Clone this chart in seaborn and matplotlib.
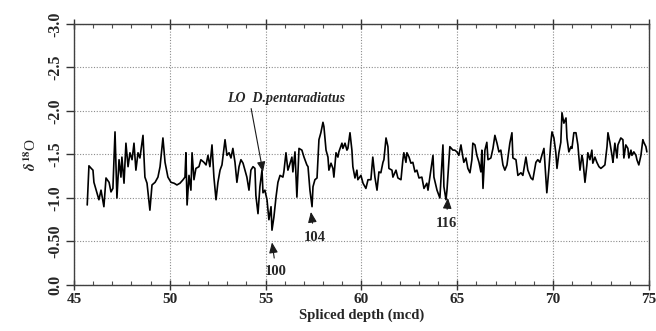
import matplotlib
matplotlib.use("Agg")
import matplotlib.pyplot as plt
import seaborn as sns
import pandas as pd
from matplotlib.ticker import MultipleLocator, FixedLocator, FixedFormatter

# ---- data ----
depth = [45.69, 45.78, 45.90, 45.99, 46.04, 46.30, 46.41, 46.56, 46.67, 46.83, 46.93, 47.03, 47.14, 47.24,
         47.35, 47.45, 47.50, 47.61, 47.71, 47.82, 47.92, 48.03, 48.13, 48.23, 48.34, 48.44, 48.60, 48.70,
         48.81, 48.96, 49.07, 49.23, 49.38, 49.49, 49.56, 49.64, 49.75, 49.90, 50.06, 50.22, 50.37, 50.53,
         50.69, 50.79, 50.84, 50.90, 51.00, 51.10, 51.16, 51.26, 51.36, 51.52, 51.62, 51.78, 51.89, 51.99,
         52.09, 52.20, 52.30, 52.41, 52.51, 52.62, 52.72, 52.88, 52.98, 53.09, 53.19, 53.29, 53.40, 53.50,
         53.61, 53.71, 53.82, 53.92, 54.02, 54.13, 54.23, 54.34, 54.44, 54.49, 54.60, 54.70, 54.81, 54.86,
         54.96, 55.07, 55.17, 55.28, 55.33, 55.43, 55.54, 55.64, 55.75, 55.90, 55.95, 56.06, 56.16, 56.22,
         56.37, 56.42, 56.53, 56.63, 56.74, 56.89, 57.00, 57.15, 57.21, 57.31, 57.42, 57.47, 57.57, 57.68,
         57.78, 57.88, 57.99, 58.04, 58.15, 58.25, 58.30, 58.41, 58.51, 58.56, 58.67, 58.77, 58.82, 58.98,
         59.03, 59.14, 59.24, 59.29, 59.40, 59.50, 59.55, 59.66, 59.76, 59.81, 59.97, 60.08, 60.23, 60.34,
         60.49, 60.59, 60.70, 60.81, 60.91, 61.01, 61.12, 61.17, 61.28, 61.38, 61.43, 61.59, 61.64, 61.80,
         61.90, 62.06, 62.16, 62.21, 62.32, 62.37, 62.48, 62.58, 62.68, 62.79, 62.89, 63.00, 63.15, 63.26,
         63.41, 63.47, 63.62, 63.73, 63.78, 63.94, 64.09, 64.25, 64.30, 64.41, 64.46, 64.61, 64.77, 64.87,
         64.98, 65.08, 65.19, 65.29, 65.34, 65.45, 65.55, 65.66, 65.76, 65.81, 65.92, 66.02, 66.13, 66.23,
         66.28, 66.34, 66.44, 66.54, 66.60, 66.75, 66.86, 66.96, 67.07, 67.17, 67.27, 67.38, 67.48, 67.59,
         67.74, 67.85, 67.90, 68.06, 68.16, 68.32, 68.42, 68.58, 68.68, 68.84, 68.94, 69.10, 69.20, 69.31,
         69.41, 69.52, 69.62, 69.67, 69.78, 69.88, 69.94, 70.04, 70.14, 70.20, 70.30, 70.40, 70.46, 70.56,
         70.67, 70.72, 70.82, 70.93, 70.98, 71.08, 71.19, 71.29, 71.40, 71.50, 71.55, 71.66, 71.76, 71.81,
         71.92, 72.02, 72.07, 72.18, 72.28, 72.39, 72.49, 72.60, 72.70, 72.81, 72.86, 72.96, 73.07, 73.12,
         73.22, 73.33, 73.38, 73.53, 73.64, 73.69, 73.79, 73.90, 73.95, 74.06, 74.11, 74.21, 74.32, 74.37,
         74.47, 74.58, 74.68, 74.73, 74.84, 74.89]
d18o = [-0.92, -1.37, -1.34, -1.32, -1.18, -0.98, -1.09, -0.90, -1.23, -1.18, -1.07, -1.11, -1.76, -1.00,
        -1.44, -1.24, -1.47, -1.17, -1.63, -1.36, -1.52, -1.44, -1.63, -1.32, -1.52, -1.46, -1.72, -1.24,
        -1.17, -0.86, -1.15, -1.18, -1.24, -1.36, -1.52, -1.69, -1.41, -1.24, -1.18, -1.17, -1.15, -1.17,
        -1.21, -1.24, -1.52, -0.92, -1.26, -1.09, -1.52, -1.21, -1.34, -1.36, -1.44, -1.41, -1.38, -1.49,
        -1.36, -1.61, -1.24, -0.98, -1.18, -1.32, -1.38, -1.67, -1.49, -1.52, -1.46, -1.57, -1.41, -1.18,
        -1.36, -1.44, -1.40, -1.32, -1.24, -1.09, -1.32, -1.36, -1.34, -1.03, -0.82, -1.13, -1.32, -1.06,
        -1.09, -0.98, -0.75, -0.90, -0.63, -0.78, -1.01, -1.18, -1.26, -1.24, -1.30, -1.52, -1.32, -1.36,
        -1.47, -1.30, -1.53, -1.01, -1.57, -1.55, -1.47, -1.38, -1.36, -1.09, -0.90, -1.13, -1.21, -1.23,
        -1.67, -1.75, -1.87, -1.82, -1.55, -1.47, -1.32, -1.40, -1.34, -1.24, -1.52, -1.47, -1.53, -1.63,
        -1.57, -1.63, -1.55, -1.57, -1.75, -1.55, -1.36, -1.23, -1.32, -1.21, -1.26, -1.17, -1.11, -1.21,
        -1.21, -1.47, -1.24, -1.09, -1.30, -1.29, -1.41, -1.44, -1.69, -1.59, -1.34, -1.32, -1.24, -1.32,
        -1.23, -1.21, -1.44, -1.52, -1.41, -1.52, -1.47, -1.40, -1.41, -1.30, -1.32, -1.23, -1.24, -1.11,
        -1.17, -1.09, -1.32, -1.49, -1.24, -1.09, -1.00, -1.61, -1.13, -0.98, -1.09, -1.59, -1.55, -1.55,
        -1.53, -1.49, -1.61, -1.47, -1.41, -1.46, -1.34, -1.29, -1.44, -1.63, -1.61, -1.49, -1.41, -1.30,
        -1.55, -1.11, -1.55, -1.64, -1.44, -1.46, -1.57, -1.72, -1.63, -1.53, -1.55, -1.38, -1.32, -1.38,
        -1.63, -1.75, -1.46, -1.44, -1.26, -1.29, -1.26, -1.47, -1.32, -1.23, -1.21, -1.41, -1.44, -1.41,
        -1.49, -1.57, -1.24, -1.06, -1.34, -1.64, -1.76, -1.69, -1.52, -1.34, -1.52, -1.64, -1.98, -1.86,
        -1.92, -1.69, -1.53, -1.59, -1.57, -1.75, -1.75, -1.61, -1.32, -1.49, -1.44, -1.18, -1.38, -1.52,
        -1.44, -1.55, -1.40, -1.47, -1.41, -1.36, -1.34, -1.36, -1.38, -1.59, -1.75, -1.64, -1.49, -1.41,
        -1.63, -1.46, -1.61, -1.69, -1.67, -1.46, -1.61, -1.57, -1.46, -1.55, -1.49, -1.53, -1.49, -1.44,
        -1.38, -1.49, -1.67, -1.64, -1.59, -1.53]

xticks = [45, 50, 55, 60, 65, 70, 75]
yticks = [0.0, -0.5, -1.0, -1.5, -2.0, -2.5, -3.0]
ytick_labels = ["0.0", "-0.50", "-1.0", "-1.5", "-2.0", "-2.5", "-3.0"]

event_labels = ["100", "104", "116"]
event_tip_x = [55.33, 57.36, 64.51]
event_tip_y = [-0.49, -0.84, -1.00]
event_txt_x = [55.55, 57.55, 64.42]
event_txt_y = [-0.15, -0.55, -0.71]

lo_label = "LO  D.pentaradiatus"
lo_tip = (54.86, -1.30)

# ---- style ----
sns.set_theme(style="white")
plt.rcParams["font.family"] = ["Liberation Serif", "DejaVu Serif"]
plt.rcParams["font.weight"] = "bold"
plt.rcParams["mathtext.fontset"] = "stix"

fig = plt.figure(figsize=(6.56, 3.31), dpi=100)
ax = fig.add_axes([0.1128, 0.139, 0.8765, 0.7885])

df = pd.DataFrame({"depth": depth, "d18o": d18o})
sns.lineplot(data=df, x="depth", y="d18o", ax=ax, color="black", lw=1.2,
             sort=False, estimator=None)

ax.set_xlim(45, 75)
ax.set_ylim(0.0, -3.0)

ax.xaxis.set_major_locator(FixedLocator(xticks))
ax.xaxis.set_minor_locator(MultipleLocator(1))
ax.yaxis.set_major_locator(FixedLocator(yticks))
ax.yaxis.set_major_formatter(FixedFormatter(ytick_labels))
ax.set_xticklabels([str(t) for t in xticks])

ax.grid(True, which="major", color="0.55", linestyle=(0, (1, 1.5)), lw=0.8)

for s in ax.spines.values():
    s.set_color("0.25")
    s.set_linewidth(1.0)

ax.tick_params(axis="x", which="major", direction="inout", length=7, width=1.0,
               top=True, bottom=True, labelsize=11, pad=2, colors="0.2")
ax.tick_params(axis="x", which="minor", direction="in", length=3, width=0.8,
               top=True, bottom=True, colors="0.3")
ax.tick_params(axis="y", which="major", direction="out", length=6, width=1.0,
               left=True, right=False, labelsize=11.5, pad=2, colors="0.2")
for lab in ax.get_yticklabels():
    lab.set_rotation(90)
    lab.set_va("center")
for lab in ax.get_xticklabels() + ax.get_yticklabels():
    lab.set_fontweight("bold")
    lab.set_color("0.15")

ax.set_xlabel("Spliced depth (mcd)", fontsize=10.5, fontweight="bold", labelpad=2, color="0.15")
ax.set_ylabel(r"$\delta^{18}$O", fontsize=11, labelpad=6, color="0.15")

# annotations
for lab, tx, ty, px, py in zip(event_labels, event_txt_x, event_txt_y, event_tip_x, event_tip_y):
    ax.annotate(lab, xy=(px, py), xytext=(tx, ty), ha="center", va="center",
                fontsize=10.5, fontweight="bold", color="0.15",
                arrowprops=dict(arrowstyle="-|>,head_length=0.6,head_width=0.25",
                                color="0.1", lw=0.8, shrinkA=3, shrinkB=0))

ax.annotate(lo_label, xy=lo_tip, xytext=(52.98, -2.14), ha="left", va="center",
            fontsize=10, fontweight="bold", fontstyle="italic", color="0.15",
            arrowprops=dict(arrowstyle="-|>,head_length=0.6,head_width=0.25",
                            color="0.1", lw=0.8, shrinkA=0, shrinkB=0,
                            relpos=(0.2, 0.0)))

fig.savefig("out.png", dpi=100)
